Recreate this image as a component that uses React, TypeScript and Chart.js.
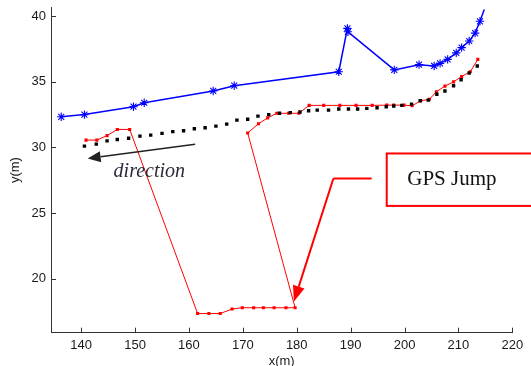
import React, { useEffect, useRef } from "react";
import { Chart, registerables } from "chart.js";
Chart.register(...registerables);

const xTickValues = [140, 150, 160, 170, 180, 190, 200, 210, 220];
const yTickValues = [20, 25, 30, 35, 40];

const blueX = [136.3, 140.6, 149.7, 151.7, 164.5, 168.4, 187.8, 189.4, 189.5, 198.1, 202.7, 205.5, 206.6, 208.0, 209.6, 210.6, 212.0, 213.1, 214.0, 214.8];
const blueY = [32.33, 32.5, 33.1, 33.4, 34.3, 34.7, 35.76, 39.06, 38.8, 35.9, 36.3, 36.2, 36.4, 36.7, 37.2, 37.6, 38.1, 38.7, 39.6, 40.5];

const redX = [140.9, 142.9, 144.8, 146.7, 149.0, 161.6, 163.7, 165.8, 168.0, 169.9, 172.0, 173.8, 175.8, 178.0, 179.7, 170.9, 172.9, 174.6, 176.3, 178.5, 180.4, 182.3, 185.0, 188.0, 191.0, 194.0, 196.7, 198.0, 199.9, 201.4, 203.0, 204.6, 205.9, 207.5, 209.1, 210.6, 212.2, 213.6];
const redY = [30.56, 30.56, 30.9, 31.37, 31.37, 17.36, 17.36, 17.36, 17.7, 17.8, 17.8, 17.8, 17.8, 17.8, 17.8, 31.1, 31.8, 32.25, 32.6, 32.6, 32.6, 33.2, 33.2, 33.2, 33.2, 33.2, 33.22, 33.22, 33.22, 33.17, 33.55, 33.66, 34.23, 34.67, 34.99, 35.4, 35.76, 36.7];

const blackX = [140.6, 142.8, 144.8, 146.7, 148.8, 150.9, 152.9, 155.0, 157.0, 159.0, 161.0, 163.0, 165.0, 167.0, 168.9, 170.9, 172.8, 174.8, 176.8, 178.8, 180.6, 182.2, 183.8, 185.9, 187.8, 189.6, 191.3, 193.0, 194.9, 196.6, 198.0, 199.5, 201.3, 202.9, 204.4, 206.0, 207.5, 209.1, 210.5, 212.0, 213.5];
const blackY = [30.1, 30.25, 30.5, 30.6, 30.7, 30.86, 30.94, 31.07, 31.2, 31.27, 31.42, 31.5, 31.62, 31.77, 32.08, 32.15, 32.38, 32.5, 32.6, 32.65, 32.7, 32.79, 32.84, 32.84, 32.92, 32.92, 32.92, 32.97, 33.02, 33.1, 33.15, 33.2, 33.3, 33.55, 33.6, 34.05, 34.3, 34.7, 35.15, 35.67, 36.2];

// annotation anchors in data units
const directionArrow = { from: [161.15, 30.25], to: [141.2, 29.16] };
const directionLabel = { text: "direction", at: [152.65, 27.76] };
const jumpBox = { x0: 196.7, x1: 226, y0: 29.54, y1: 25.55 };
const jumpLabel = { text: "GPS Jump", at: [200.5, 27.13] };
const jumpLeader = { start: [193.9, 27.64], corner: [186.8, 27.64], tip: [179.46, 18.25] };

const tickFont = { family: "'Liberation Sans', Arial, sans-serif", size: 13 };
const axisColor = "#333333";
const labelColor = "#1a1a1a";

function arrow(ctx: CanvasRenderingContext2D, x0: number, y0: number, x1: number, y1: number, head: number, half: number, color: string, lw: number) {
  const ang = Math.atan2(y1 - y0, x1 - x0);
  const bx = x1 - head * Math.cos(ang);
  const by = y1 - head * Math.sin(ang);
  ctx.strokeStyle = color;
  ctx.fillStyle = color;
  ctx.lineWidth = lw;
  ctx.beginPath();
  ctx.moveTo(x0, y0);
  ctx.lineTo(bx, by);
  ctx.stroke();
  ctx.beginPath();
  ctx.moveTo(x1, y1);
  ctx.lineTo(bx + half * Math.sin(ang), by - half * Math.cos(ang));
  ctx.lineTo(bx - half * Math.sin(ang), by + half * Math.cos(ang));
  ctx.closePath();
  ctx.fill();
}

export default function App() {
  const ref = useRef<HTMLCanvasElement>(null);
  useEffect(() => {
    const pts = (xs: number[], ys: number[]) => xs.map((x, i) => ({ x, y: ys[i] }));
    const annot = {
      id: "annot",
      afterDatasetsDraw(chart: any) {
        const ctx: CanvasRenderingContext2D = chart.ctx;
        const sx = chart.scales.x;
        const sy = chart.scales.y;
        const px = (v: number) => sx.getPixelForValue(v);
        const py = (v: number) => sy.getPixelForValue(v);
        ctx.save();
        // inward ticks
        ctx.strokeStyle = axisColor;
        ctx.lineWidth = 1;
        const ca = chart.chartArea;
        ctx.beginPath();
        for (const v of xTickValues) {
          const x = Math.round(px(v)) + 0.5;
          ctx.moveTo(x, ca.bottom);
          ctx.lineTo(x, ca.bottom - 5);
        }
        for (const v of yTickValues) {
          const y = Math.round(py(v)) + 0.5;
          ctx.moveTo(ca.left, y);
          ctx.lineTo(ca.left + 5, y);
        }
        ctx.stroke();
        // direction arrow
        arrow(ctx, px(directionArrow.from[0]), py(directionArrow.from[1]), px(directionArrow.to[0]), py(directionArrow.to[1]), 13, 5.5, "#222222", 1.5);
        ctx.fillStyle = "#2a2a3a";
        ctx.font = "italic 20px 'Liberation Serif', 'Times New Roman', serif";
        ctx.textAlign = "center";
        ctx.textBaseline = "alphabetic";
        ctx.fillText(directionLabel.text, px(directionLabel.at[0]), py(directionLabel.at[1]));
        // GPS jump box
        ctx.strokeStyle = "#ff0000";
        ctx.lineWidth = 2;
        ctx.strokeRect(px(jumpBox.x0), py(jumpBox.y0), px(jumpBox.x1) - px(jumpBox.x0), py(jumpBox.y1) - py(jumpBox.y0));
        ctx.fillStyle = "#111111";
        ctx.font = "21px 'Liberation Serif', 'Times New Roman', serif";
        ctx.textAlign = "left";
        ctx.fillText(jumpLabel.text, px(jumpLabel.at[0]), py(jumpLabel.at[1]));
        ctx.strokeStyle = "#ff0000";
        ctx.beginPath();
        ctx.moveTo(px(jumpLeader.start[0]), py(jumpLeader.start[1]));
        ctx.lineTo(px(jumpLeader.corner[0]), py(jumpLeader.corner[1]));
        ctx.stroke();
        arrow(ctx, px(jumpLeader.corner[0]), py(jumpLeader.corner[1]), px(jumpLeader.tip[0]), py(jumpLeader.tip[1]), 16, 6, "#ff0000", 2);
        ctx.restore();
      },
    };
    const blueRadius = blueX.map((_, i) => (i === blueX.length - 1 ? 0 : 4.2));
    const chart = new Chart(ref.current as HTMLCanvasElement, {
      type: "scatter",
      data: {
        datasets: [
          {
            data: pts(blackX, blackY),
            showLine: false,
            pointStyle: "rect",
            pointRadius: 2.4,
            backgroundColor: "#000000",
            borderColor: "#000000",
            borderWidth: 0,
          },
          {
            data: pts(redX, redY),
            showLine: true,
            borderColor: "#ff0000",
            backgroundColor: "#ff0000",
            borderWidth: 1,
            pointStyle: "rect",
            pointRadius: 2.2,
            pointBorderWidth: 0,
          },
          {
            data: pts(blueX, blueY),
            showLine: true,
            borderColor: "#0000ff",
            backgroundColor: "#0000ff",
            borderWidth: 1.5,
            pointStyle: "star",
            pointRadius: blueRadius,
            pointBorderWidth: 1.1,
          },
        ] as any,
      },
      options: {
        animation: false,
        responsive: false,
        events: [],
        layout: { padding: { top: 7.5, right: 18.7, left: 0, bottom: 0 } },
        plugins: { legend: { display: false }, tooltip: { enabled: false } },
        scales: {
          x: {
            type: "linear",
            min: 134.4,
            max: 220,
            afterBuildTicks: (s: any) => {
              s.ticks = xTickValues.map((v) => ({ value: v }));
            },
            afterFit: (s: any) => {
              s.height = 33.3;
              s.paddingLeft = 0;
              s.paddingRight = 0;
            },
            grid: { display: false, drawTicks: false },
            border: { color: axisColor, width: 1 },
            ticks: { padding: 5, font: tickFont, color: labelColor, maxRotation: 0 },
            title: { display: true, text: "x(m)", font: tickFont, color: labelColor, padding: { top: 0, bottom: -3.5 } },
          },
          y: {
            type: "linear",
            min: 15.9,
            max: 40.65,
            afterBuildTicks: (s: any) => {
              s.ticks = yTickValues.map((v) => ({ value: v }));
            },
            afterFit: (s: any) => {
              s.width = 51;
              s.paddingTop = 0;
              s.paddingBottom = 0;
            },
            grid: { display: false, drawTicks: false },
            border: { color: axisColor, width: 1 },
            ticks: { padding: 5, font: tickFont, color: labelColor },
            title: { display: true, text: "y(m)", font: tickFont, color: labelColor, padding: { top: 7.5, bottom: 0 } },
          },
        },
      } as any,
      plugins: [annot],
    });
    return () => chart.destroy();
  }, []);
  return (
    <div style={{ position: "absolute", left: 0, top: 0, width: 531, height: 366, background: "#ffffff" }}>
      <canvas ref={ref} width={531} height={366} style={{ display: "block" }} />
    </div>
  );
}
